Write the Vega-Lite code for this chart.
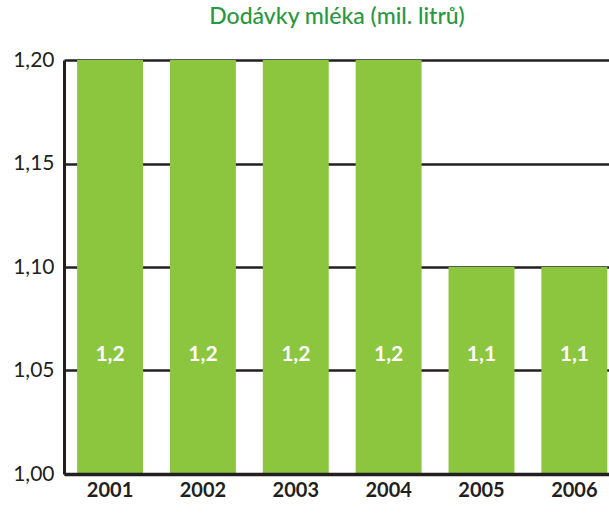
{
  "$schema": "https://vega.github.io/schema/vega-lite/v6.json",
  "autosize": "none",
  "padding": {"left": 64, "top": 60, "right": 0, "bottom": 41},
  "width": 546,
  "height": 414,
  "background": "white",
  "config": {
    "view": {"stroke": null},
    "locale": {"number": {"decimal": ",", "thousands": " ", "grouping": [3], "currency": ["", " Kč"]}},
    "font": "Lato"
  },
  "title": {
    "text": "Dodávky mléka (mil. litrů)",
    "color": "#27983f",
    "fontSize": 23,
    "fontWeight": 500,
    "font": "Lato",
    "anchor": "middle",
    "offset": 20
  },
  "data": {
    "values": [
      {"rok": "2001", "v": 1.2},
      {"rok": "2002", "v": 1.2},
      {"rok": "2003", "v": 1.2},
      {"rok": "2004", "v": 1.2},
      {"rok": "2005", "v": 1.1},
      {"rok": "2006", "v": 1.1}
    ]
  },
  "layer": [
    {
      "mark": {"type": "bar", "color": "#8cc63f", "clip": true},
      "encoding": {
        "x": {
          "field": "rok",
          "type": "nominal",
          "sort": null,
          "scale": {"paddingInner": 0.29, "paddingOuter": 0.085, "align": 0.83},
          "axis": {
            "title": null,
            "labelAngle": 0,
            "labelFontSize": 20,
            "labelFontWeight": "bold",
            "labelColor": "#231f20",
            "labelPadding": 6,
            "ticks": false,
            "domainColor": "#231f20",
            "domainWidth": 3.5,
            "zindex": 1
          }
        },
        "y": {
          "field": "v",
          "type": "quantitative",
          "scale": {"domain": [1.0, 1.2], "zero": false, "nice": false},
          "axis": {
            "title": null,
            "values": [1.0, 1.05, 1.1, 1.15, 1.2],
            "format": ".2f",
            "labelFontSize": 21,
            "labelColor": "#231f20",
            "labelPadding": 10,
            "ticks": false,
            "domain": true,
            "domainColor": "#231f20",
            "domainWidth": 3,
            "gridColor": "#231f20",
            "gridWidth": 2.5,
            "gridOpacity": 1,
            "zindex": 0
          }
        },
        "y2": {"datum": 1.0}
      }
    },
    {
      "mark": {"type": "text", "color": "white", "fontSize": 21, "fontWeight": "bold", "baseline": "middle"},
      "encoding": {
        "x": {"field": "rok", "type": "nominal", "sort": null},
        "y": {"datum": 1.0575, "type": "quantitative"},
        "text": {"field": "v", "type": "quantitative", "format": ".1f"}
      }
    }
  ]
}
